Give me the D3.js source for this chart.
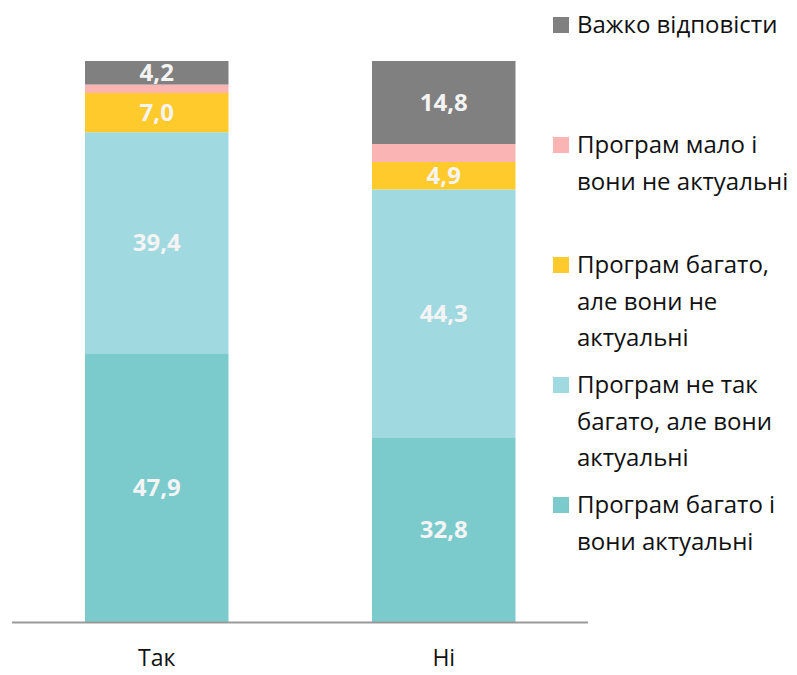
<!DOCTYPE html>
<html>
<head>
<meta charset="utf-8">
<script src="https://cdn.jsdelivr.net/npm/d3@7"></script>
<style>
  body { margin: 0; background: #fff; }
  svg { display: block; }
</style>
</head>
<body>
<div id="chart"></div>
<script>
// Stacked bars: Так / Ні
const categories = ['Так', 'Ні'];
const seriesNames = [
    'Програм багато і вони актуальні',
    'Програм не так багато, але вони актуальні',
    'Програм багато, але  вони не актуальні',
    'Програм мало і вони не актуальні',
    'Важко відповісти',
];
const seriesColors = ['#7BCBCD', '#A1D9E0', '#FFCA2C', '#FBB4B4', '#808080'];
const valuesTak = [47.9, 39.4, 7.0, 1.5, 4.2];
const valuesNi = [32.8, 44.3, 4.9, 3.2, 14.8];
const showLabel = [true, true, true, false, true];

// legend lines (as wrapped in the original)
const legendLines = [
    ['Важко відповісти'],
    ['Програм мало і', 'вони не актуальні'],
    ['Програм багато,', 'але  вони не', 'актуальні'],
    ['Програм не так', 'багато, але вони', 'актуальні'],
    ['Програм багато і', 'вони актуальні'],
];
const legendColors = ['#808080', '#FBB4B4', '#FFCA2C', '#A1D9E0', '#7BCBCD'];
const legendTops = [25, 145, 265, 385, 505];

const width = 797, height = 675;
const FONT = '"Open Sans", "Noto Sans", sans-serif';

const svg = d3.select('#chart').append('svg')
    .attr('width', width)
    .attr('height', height);

const x = d3.scaleBand()
    .domain(categories)
    .range([13.25, 587.25])
    .paddingInner(0.5)
    .paddingOuter(0.25);

const y = d3.scaleLinear()
    .domain([0, 100])
    .range([622, 61]);

const data = [valuesTak, valuesNi];

// build stacked segments
const segments = [];
data.forEach((vals, ci) => {
    let acc = 0;
    vals.forEach((v, si) => {
        segments.push({ cat: categories[ci], y0: acc, y1: acc + v, v, si });
        acc += v;
    });
});

svg.append('g')
    .selectAll('rect')
    .data(segments)
    .join('rect')
    .attr('x', d => x(d.cat))
    .attr('width', x.bandwidth())
    .attr('y', d => y(d.y1))
    .attr('height', d => y(d.y0) - y(d.y1))
    .attr('fill', d => seriesColors[d.si]);

// value labels
svg.append('g')
    .selectAll('text')
    .data(segments.filter(d => showLabel[d.si]))
    .join('text')
    .attr('x', d => x(d.cat) + x.bandwidth() / 2)
    .attr('y', d => (y(d.y0) + y(d.y1)) / 2)
    .attr('dy', '0.35em')
    .attr('text-anchor', 'middle')
    .attr('font-family', FONT)
    .attr('font-weight', 700)
    .attr('font-size', '24px')
    .attr('fill', '#f4f4f4')
    .text(d => d.v.toFixed(1).replace('.', ','));

// x axis
const xAxis = svg.append('g')
    .attr('transform', `translate(0,${y(0)})`)
    .call(d3.axisBottom(x).tickSize(0).tickPadding(28));
xAxis.select('.domain')
    .attr('d', 'M12,0.5H588')
    .attr('stroke', '#999')
    .attr('stroke-width', 2);
xAxis.selectAll('text')
    .attr('font-family', FONT)
    .attr('font-size', '23px')
    .attr('fill', '#111');

// legend
const legend = svg.append('g');
legendLines.forEach((lines, i) => {
    const g = legend.append('g').attr('transform', `translate(553,${legendTops[i]})`);
    g.append('rect')
        .attr('x', 0)
        .attr('y', -8)
        .attr('width', 16)
        .attr('height', 16)
        .attr('fill', legendColors[i]);
    g.selectAll('text')
        .data(lines)
        .join('text')
        .attr('x', 24)
        .attr('y', (d, j) => j * 36.5)
        .attr('dy', '0.35em')
        .attr('font-family', FONT)
        .attr('font-size', '24px')
        .attr('fill', '#111')
        .text(d => d);
});
</script>
</body>
</html>
